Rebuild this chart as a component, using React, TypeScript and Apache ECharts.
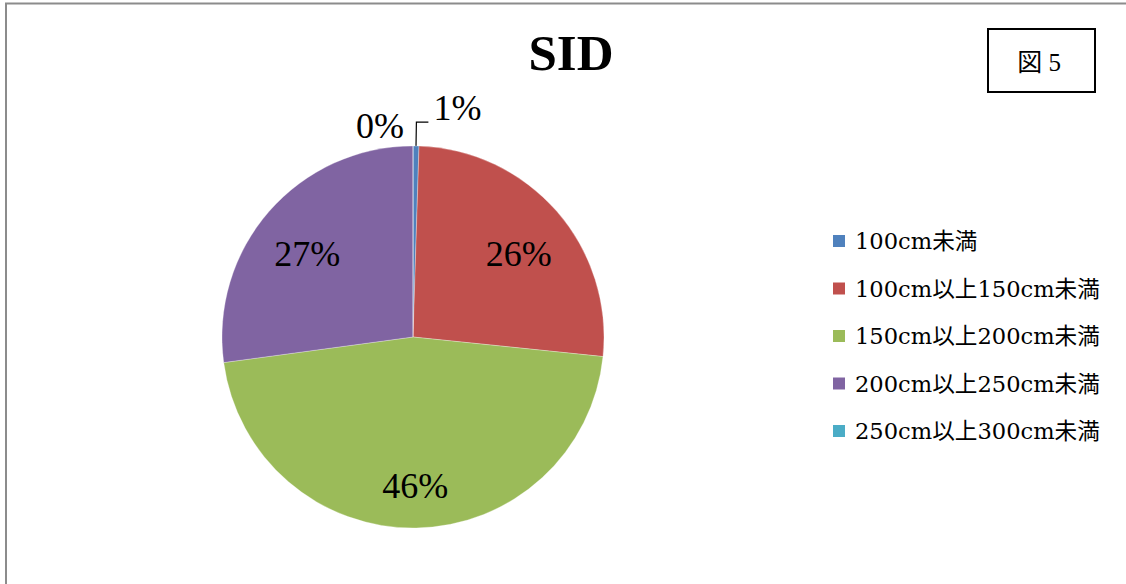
import React, { useEffect, useRef } from "react";
import * as echarts from "echarts";

const categories = [
  "100cm未満",
  "100cm以上150cm未満",
  "150cm以上200cm未満",
  "200cm以上250cm未満",
  "250cm以上300cm未満",
];
const counts = [1, 52, 92, 54, 0];
const colors = ["#4F81BD", "#C0504D", "#9BBB59", "#8064A2", "#4BACC6"];
const titleText = "SID";
const figLabel = "図 5";
const outsideLabelIdx = [0, 4];

const SERIF = "'Liberation Serif', 'Noto Sans CJK JP', serif";
const LEGEND_FONT = "'DejaVu Serif', 'Noto Sans CJK JP', serif";

export default function App() {
  const ref = useRef<HTMLDivElement>(null);
  useEffect(() => {
    if (!ref.current) return;
    const chart = echarts.init(ref.current, null, { renderer: "svg" });
    const fmt = (p: any) => Math.round(p.percent) + "%";
    const option: any = {
      animation: false,
      backgroundColor: "#ffffff",
      title: {
        text: titleText,
        left: 566,
        textAlign: "center",
        top: 22,
        textStyle: { fontFamily: SERIF, fontSize: 51, fontWeight: "bold", color: "#000" },
      },
      legend: {
        orient: "vertical",
        left: 826,
        top: 224,
        icon: "rect",
        itemWidth: 14,
        itemHeight: 14,
        itemGap: 23.5,
        data: categories,
        textStyle: {
          fontFamily: LEGEND_FONT,
          fontSize: 22.6,
          lineHeight: 24,
          color: "#000",
          padding: [0, 0, 0, 4],
        },
      },
      graphic: [
        {
          type: "rect",
          shape: { x: 6, y: 3.5, width: 1300, height: 800 },
          style: { fill: "none", stroke: "#8c8c8c", lineWidth: 2 },
          silent: true,
        },
        {
          type: "rect",
          shape: { x: 988, y: 29, width: 107, height: 63 },
          style: { fill: "#fff", stroke: "#000", lineWidth: 2 },
          silent: true,
        },
        {
          type: "text",
          x: 1039,
          y: 62,
          style: {
            text: figLabel,
            fontFamily: SERIF,
            fontSize: 25,
            fill: "#000",
            align: "center",
            verticalAlign: "middle",
          },
          silent: true,
        },
      ],
      series: [
        {
          type: "pie",
          center: [413, 337],
          radius: [0, 191],
          startAngle: 90,
          clockwise: true,
          avoidLabelOverlap: true,
          itemStyle: { borderColor: "#fff", borderWidth: 0.3 },
          label: {
            position: "outside",
            formatter: fmt,
            fontFamily: SERIF,
            fontSize: 36,
            color: "#000",
          },
          labelLine: {
            length: 24,
            length2: 12,
            lineStyle: { color: "#000", width: 1.2 },
          },
          labelLayout: (p: any) => (p.dataIndex === 0 ? { dy: -14 } : { dx: 8, dy: 4 }),
          data: categories.map((c, i) => ({
            name: c,
            value: counts[i],
            itemStyle: { color: colors[i] },
            label: { show: outsideLabelIdx.includes(i) },
            labelLine: { show: i === 0 },
          })),
        },
        {
          type: "pie",
          center: [413, 337],
          radius: [84, 191],
          startAngle: 90,
          clockwise: true,
          silent: true,
          itemStyle: { color: "rgba(0,0,0,0)" },
          label: {
            position: "inside",
            formatter: fmt,
            fontFamily: SERIF,
            fontSize: 36,
            color: "#000",
          },
          labelLine: { show: false },
          labelLayout: () => ({ dy: 9 }),
          data: categories.map((c, i) => ({
            name: c,
            value: counts[i],
            label: { show: !outsideLabelIdx.includes(i) },
          })),
        },
      ],
    };
    chart.setOption(option);
    return () => chart.dispose();
  }, []);
  return (
    <div
      ref={ref}
      style={{ position: "fixed", left: 0, top: 0, width: 1126, height: 584 }}
    />
  );
}
